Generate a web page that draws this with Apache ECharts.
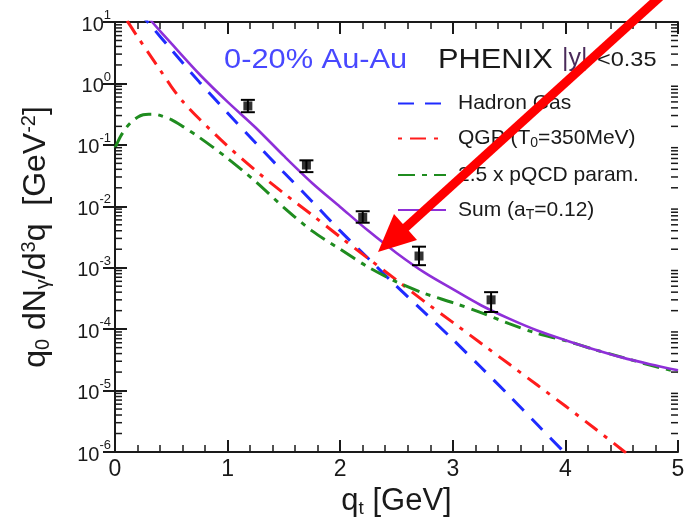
<!DOCTYPE html>
<html>
<head>
<meta charset="utf-8">
<script src="https://cdn.jsdelivr.net/npm/echarts@6/dist/echarts.min.js"></script>
<style>
  html, body { margin: 0; padding: 0; background: #fff; }
  #chart { width: 686px; height: 523px; }
</style>
</head>
<body>
<div id="chart"></div>
<script>
// curves (q_t in GeV, yield in GeV^-2)
var hadronQt = [0.2, 0.3, 0.5, 0.75, 1.0, 1.25, 1.5, 1.75, 2.0, 2.25, 2.5, 2.75, 3.0, 3.25, 3.5, 3.75, 4.0, 4.1];
var hadronVal = [15.1, 9.55, 3.55, 1.05, 0.331, 0.107, 0.0355, 0.0120, 0.00398, 0.00141, 5.0e-4, 1.86e-4, 6.8e-5, 2.4e-5, 8.3e-6, 2.8e-6, 9.5e-7, 6.3e-7];

var qgpQt = [0.05, 0.1, 0.2, 0.3, 0.4, 0.5, 0.6, 0.75, 1.0, 1.25, 1.5, 1.75, 2.0, 2.25, 2.5, 2.75, 3.0, 3.25, 3.5, 3.75, 4.0, 4.25, 4.5, 4.6];
var qgpVal = [15.1, 11.0, 5.75, 3.09, 1.66, 0.891, 0.513, 0.263, 0.0955, 0.0380, 0.0162, 0.00724, 0.00316, 0.00141, 6.3e-4, 2.8e-4, 1.29e-4, 5.9e-5, 2.7e-5, 1.23e-5, 5.6e-6, 2.5e-6, 1.1e-6, 7.9e-7];

var pqcdQt = [0.0, 0.05, 0.1, 0.15, 0.2, 0.25, 0.3, 0.35, 0.4, 0.5, 0.6, 0.75, 1.0, 1.25, 1.5, 1.75, 2.0, 2.25, 2.5, 2.75, 3.0, 3.25, 3.5, 3.75, 4.0, 4.25, 4.5, 4.75, 5.0];
var pqcdVal = [0.0891, 0.138, 0.191, 0.240, 0.282, 0.309, 0.316, 0.316, 0.302, 0.257, 0.200, 0.132, 0.0603, 0.0251, 0.00955, 0.00398, 0.00200, 0.00102, 5.9e-4, 3.8e-4, 2.7e-4, 1.86e-4, 1.23e-4, 8.5e-5, 6.5e-5, 4.7e-5, 3.5e-5, 2.6e-5, 2.0e-5];

var sumQt = [0.25, 0.33, 0.5, 0.75, 1.0, 1.25, 1.5, 1.75, 2.0, 2.25, 2.5, 2.75, 3.0, 3.25, 3.5, 3.75, 4.0, 4.25, 4.5, 4.75, 5.0];
var sumVal = [14.8, 10.0, 4.47, 1.41, 0.50, 0.19, 0.066, 0.0240, 0.00977, 0.00398, 0.00174, 8.3e-4, 4.47e-4, 2.45e-4, 1.48e-4, 9.5e-5, 6.6e-5, 4.7e-5, 3.47e-5, 2.69e-5, 2.14e-5];

// PHENIX data points with error bars
var ptQt = [1.18, 1.70, 2.20, 2.70, 3.34];
var ptVal = [0.43, 0.047, 0.0066, 0.00155, 0.00030];
var ptLo = [0.34, 0.036, 0.0054, 0.0011, 0.00019];
var ptHi = [0.54, 0.056, 0.0083, 0.0022, 0.00040];

var xTicks = [0, 1, 2, 3, 4, 5];
var yDecades = [-6, -5, -4, -3, -2, -1, 0, 1];

var seriesNames = ['Hadron Gas', 'QGP (T0=350MeV)', '2.5 x pQCD param.', 'Sum (aT=0.12)'];
var legendLabels = {
  'Hadron Gas': 'Hadron Gas',
  'QGP (T0=350MeV)': 'QGP (T{sub|0}=350MeV)',
  '2.5 x pQCD param.': '2.5 x pQCD param.',
  'Sum (aT=0.12)': 'Sum (a{sub|T}=0.12)'
};

function pairs(xs, ys) {
  return xs.map(function (x, i) { return [x, ys[i]]; });
}

// log minor tick positions (2..9 x 10^k)
var minorVals = [];
for (var d = 0; d < yDecades.length - 1; d++) {
  for (var m = 2; m <= 9; m++) minorVals.push([0, m * Math.pow(10, yDecades[d])]);
}

var FONT = 'Liberation Sans';
var INK = '#1a1a1a';

var chart = echarts.init(document.getElementById('chart'));

var sideAxis = {
  type: 'log', logBase: 10, min: 1e-6, max: 10, interval: 1,
  axisLine: { show: true, lineStyle: { color: INK, width: 2 } },
  axisTick: { show: true, inside: true, length: 12, lineStyle: { color: INK, width: 2 } },
  splitLine: { show: false }
};

var flatX = {
  type: 'value', min: 0, max: 5, interval: 1,
  axisLine: { show: true, onZero: false, lineStyle: { color: INK, width: 2 } },
  axisTick: { show: true, inside: true, length: 12, lineStyle: { color: INK, width: 2 } },
  minorTick: { show: true, splitNumber: 5, length: 7, lineStyle: { color: INK, width: 1.5 } },
  splitLine: { show: false }
};

chart.setOption({
  animation: false,
  backgroundColor: '#fff',
  grid: { left: 115, right: 8, top: 22, bottom: 71, outerBoundsMode: 'none', containLabel: false },
  xAxis: [Object.assign({}, flatX, {
    position: 'bottom',
    axisLabel: {
      margin: 6, color: INK, fontFamily: FONT, fontSize: 23,
      formatter: function (v) { return xTicks.indexOf(v) >= 0 ? String(v) : ''; }
    },
    name: 'q{sub|t} [GeV]',
    nameLocation: 'middle',
    nameGap: 31,
    nameTextStyle: {
      color: INK, fontFamily: FONT, fontSize: 31,
      rich: { sub: { fontSize: 19, fontFamily: FONT, color: INK, verticalAlign: 'bottom', padding: [14, 0, 0, 0] } }
    }
  }), Object.assign({}, flatX, {
    position: 'top',
    axisLabel: { show: false }
  })],
  yAxis: [Object.assign({}, sideAxis, {
    position: 'left',
    axisLabel: {
      margin: 4, color: INK, fontFamily: FONT,
      formatter: function (v) {
        var e = Math.round(Math.log10(v));
        return '{b|10}{s|' + e + '}';
      },
      rich: {
        b: { fontSize: 20, fontFamily: FONT, color: INK, lineHeight: 26, verticalAlign: 'bottom' },
        s: { fontSize: 13, fontFamily: FONT, color: INK, verticalAlign: 'top' }
      }
    },
    name: 'q{sub|0} dN{sub|γ}/d{sup|3}q  [GeV{sup|-2}]',
    nameLocation: 'middle',
    nameRotate: 90,
    nameGap: 62,
    nameTextStyle: {
      color: INK, fontFamily: FONT, fontSize: 32,
      rich: {
        sub: { fontSize: 20, fontFamily: FONT, color: INK, verticalAlign: 'bottom', padding: [14, 0, 0, 0] },
        sup: { fontSize: 20, fontFamily: FONT, color: INK, verticalAlign: 'top', padding: [0, 0, 14, 0] }
      }
    }
  }), Object.assign({}, sideAxis, {
    position: 'right',
    axisLabel: { show: false }
  })],
  legend: {
    data: seriesNames,
    orient: 'vertical',
    left: 392,
    top: 88,
    itemWidth: 48,
    itemHeight: 20,
    itemGap: 14,
    selectedMode: false,
    itemStyle: { opacity: 0 },
    formatter: function (n) { return legendLabels[n]; },
    textStyle: {
      color: INK, fontFamily: FONT, fontSize: 21, padding: [0, 0, 0, 7],
      rich: { sub: { fontSize: 14, fontFamily: FONT, color: INK, verticalAlign: 'bottom', padding: [10, 0, 0, 0] } }
    }
  },
  graphic: [
    {
      type: 'text', left: 224, top: 46, scaleX: 1.1, originX: 0,
      style: { text: '0-20% Au-Au', fill: '#4848ff', font: '28px "Liberation Sans"' }
    },
    {
      type: 'text', left: 438, top: 46, scaleX: 1.1, originX: 0,
      style: { text: 'PHENIX', fill: INK, font: '28px "Liberation Sans"' }
    },
    {
      type: 'text', left: 562, top: 47,
      style: { text: '|y|', fill: '#4a2a5a', font: '25px "Liberation Sans"' }
    },
    {
      type: 'text', left: 597, top: 50, scaleX: 1.12, originX: 0,
      style: { text: '<0.35', fill: INK, font: '21px "Liberation Sans"' }
    },
    // red annotation arrow
    {
      type: 'line', z: 100,
      shape: { x1: 662, y1: -5, x2: 404, y2: 229 },
      style: { stroke: '#ff0000', lineWidth: 9 }
    },
    {
      type: 'polygon', z: 100,
      shape: { points: [[378, 252], [417, 240], [394, 214]] },
      style: { fill: '#ff0000' }
    }
  ],
  series: [
    {
      name: 'yMinorTicks', type: 'custom', silent: true, xAxisIndex: 0, yAxisIndex: 0,
      data: minorVals, clip: false, z: 10,
      renderItem: function (params, api) {
        var cs = params.coordSys;
        var y = api.coord([0, api.value(1)])[1];
        var st = { stroke: INK, lineWidth: 1.5 };
        return {
          type: 'group', children: [
            { type: 'line', shape: { x1: cs.x, y1: y, x2: cs.x + 7, y2: y }, style: st },
            { type: 'line', shape: { x1: cs.x + cs.width - 7, y1: y, x2: cs.x + cs.width, y2: y }, style: st }
          ]
        };
      }
    },
    {
      name: seriesNames[0], type: 'line', data: pairs(hadronQt, hadronVal),
      symbol: 'none', smooth: 0.3, z: 3,
      lineStyle: { color: '#1f2bff', width: 3, type: [16, 11] },
      itemStyle: { color: '#1f2bff' }
    },
    {
      name: seriesNames[1], type: 'line', data: pairs(qgpQt, qgpVal),
      symbol: 'none', smooth: 0.3, z: 3,
      lineStyle: { color: '#ff1c1c', width: 3, type: [4, 8, 16, 8] },
      itemStyle: { color: '#ff1c1c' }
    },
    {
      name: seriesNames[2], type: 'line', data: pairs(pqcdQt, pqcdVal),
      symbol: 'none', smooth: 0.3, z: 3,
      lineStyle: { color: '#1f8c1f', width: 3, type: [17, 7, 5, 7] },
      itemStyle: { color: '#1f8c1f' }
    },
    {
      name: seriesNames[3], type: 'line', data: pairs(sumQt, sumVal),
      symbol: 'none', smooth: 0.3, z: 4,
      lineStyle: { color: '#8e2fd8', width: 2.6 },
      itemStyle: { color: '#8e2fd8' }
    },
    {
      name: 'errors', type: 'custom', z: 5,
      data: ptQt.map(function (x, i) { return [x, ptLo[i], ptHi[i]]; }),
      renderItem: function (params, api) {
        var x = api.value(0);
        var lo = api.coord([x, api.value(1)]);
        var hi = api.coord([x, api.value(2)]);
        var st = { stroke: '#000', lineWidth: 2 };
        return {
          type: 'group', children: [
            { type: 'line', shape: { x1: lo[0], y1: lo[1], x2: hi[0], y2: hi[1] }, style: st },
            { type: 'line', shape: { x1: hi[0] - 7, y1: hi[1], x2: hi[0] + 7, y2: hi[1] }, style: st },
            { type: 'line', shape: { x1: lo[0] - 7, y1: lo[1], x2: lo[0] + 7, y2: lo[1] }, style: st }
          ]
        };
      }
    },
    {
      name: 'PHENIX', type: 'scatter', z: 6,
      data: pairs(ptQt, ptVal),
      symbol: 'rect', symbolSize: 9,
      itemStyle: { color: '#000' }
    }
  ]
});
</script>
</body>
</html>
